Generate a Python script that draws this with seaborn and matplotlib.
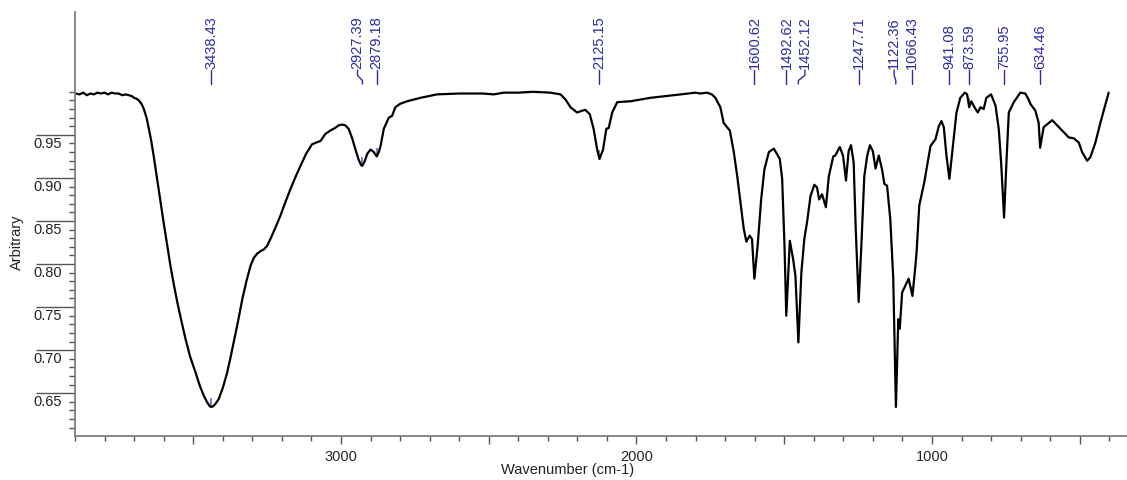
import numpy as np
import pandas as pd
import matplotlib
matplotlib.use("Agg")
import matplotlib.pyplot as plt
import matplotlib.transforms as mtrans
from matplotlib.ticker import FixedLocator, FixedFormatter
import seaborn as sns

# ---------------- data ----------------
wavenumber = [
    3897, 3885, 3872, 3860, 3848, 3836, 3824, 3812, 3800, 3788, 3776, 3764, 3752, 3740,
    3728, 3718, 3708, 3700, 3692, 3684, 3675, 3667, 3658, 3650, 3642, 3634, 3617, 3600,
    3588, 3577, 3566, 3554, 3540, 3526, 3510, 3492, 3478, 3464, 3452, 3444, 3439, 3432,
    3424, 3414, 3400, 3385, 3374, 3363, 3348, 3334, 3320, 3306, 3295, 3284, 3272, 3261,
    3250, 3239, 3222, 3205, 3188, 3171, 3154, 3137, 3118, 3098, 3084, 3069, 3053, 3036,
    3020, 3008, 2996, 2985, 2974, 2962, 2951, 2940, 2932, 2928, 2920, 2911, 2900, 2889,
    2879, 2872, 2866, 2855, 2838, 2827, 2816, 2800, 2776, 2731, 2675, 2600, 2562, 2520,
    2483, 2449, 2400, 2350, 2291, 2257, 2240, 2223, 2201, 2184, 2173, 2158, 2145, 2133,
    2125, 2113, 2102, 2094, 2082, 2065, 2020, 1953, 1900, 1850, 1800, 1784, 1761, 1745,
    1733, 1716, 1705, 1696, 1684, 1671, 1659, 1648, 1637, 1628, 1617, 1609, 1601, 1590,
    1578, 1567, 1552, 1535, 1515, 1507, 1499, 1493, 1481, 1470, 1462, 1452, 1442, 1432,
    1423, 1411, 1398, 1389, 1382, 1372, 1359, 1349, 1334, 1327, 1312, 1301, 1291, 1282,
    1274, 1265, 1258, 1248, 1239, 1229, 1219, 1210, 1200, 1191, 1180, 1169, 1161, 1152,
    1141, 1131, 1122, 1114, 1109, 1101, 1090, 1079, 1066, 1056, 1052, 1043, 1026, 1005,
    988, 977, 968, 960, 951, 941, 929, 917, 904, 889, 881, 874, 867, 856,
    845, 836, 825, 816, 800, 785, 774, 766, 756, 748, 740, 723, 701, 684,
    673, 667, 650, 639, 634, 622, 593, 565, 537, 520, 503, 492, 475, 464,
    447, 430, 419, 402,
]
arbitrary = [
    0.998, 0.997, 0.999, 0.996, 0.998, 0.997, 0.999, 0.998, 0.999, 0.997, 0.999, 0.998, 0.998, 0.996,
    0.997, 0.996, 0.995, 0.993, 0.992, 0.990, 0.986, 0.980, 0.970, 0.957, 0.943, 0.926, 0.887, 0.848,
    0.822, 0.798, 0.777, 0.756, 0.734, 0.713, 0.692, 0.674, 0.659, 0.647, 0.639, 0.635, 0.634, 0.635,
    0.638, 0.643, 0.656, 0.674, 0.691, 0.709, 0.734, 0.759, 0.780, 0.798, 0.807, 0.812, 0.815, 0.817,
    0.821, 0.829, 0.842, 0.856, 0.872, 0.887, 0.901, 0.914, 0.928, 0.939, 0.941, 0.943, 0.951, 0.955,
    0.958, 0.961, 0.962, 0.961, 0.957, 0.946, 0.933, 0.921, 0.915, 0.914, 0.919, 0.928, 0.933, 0.930,
    0.925, 0.930, 0.937, 0.957, 0.970, 0.972, 0.982, 0.986, 0.989, 0.993, 0.997, 0.998, 0.998, 0.998,
    0.997, 0.999, 0.999, 1.000, 0.999, 0.997, 0.991, 0.982, 0.976, 0.978, 0.979, 0.974, 0.957, 0.933,
    0.922, 0.933, 0.957, 0.958, 0.976, 0.988, 0.989, 0.993, 0.995, 0.997, 0.999, 0.998, 0.999, 0.997,
    0.993, 0.982, 0.964, 0.960, 0.955, 0.931, 0.902, 0.872, 0.841, 0.826, 0.833, 0.829, 0.783, 0.821,
    0.875, 0.910, 0.930, 0.934, 0.922, 0.899, 0.821, 0.740, 0.827, 0.806, 0.786, 0.709, 0.790, 0.829,
    0.848, 0.879, 0.892, 0.889, 0.875, 0.881, 0.866, 0.902, 0.925, 0.926, 0.936, 0.926, 0.897, 0.931,
    0.938, 0.918, 0.841, 0.756, 0.821, 0.902, 0.926, 0.938, 0.931, 0.911, 0.926, 0.910, 0.893, 0.891,
    0.852, 0.783, 0.634, 0.736, 0.725, 0.767, 0.775, 0.783, 0.763, 0.798, 0.814, 0.868, 0.895, 0.937,
    0.945, 0.960, 0.966, 0.959, 0.926, 0.899, 0.937, 0.976, 0.993, 0.999, 0.997, 0.982, 0.989, 0.982,
    0.976, 0.982, 0.980, 0.993, 0.997, 0.984, 0.957, 0.918, 0.854, 0.918, 0.976, 0.988, 0.999, 0.998,
    0.991, 0.986, 0.978, 0.964, 0.935, 0.959, 0.967, 0.957, 0.947, 0.946, 0.941, 0.930, 0.920, 0.924,
    0.941, 0.964, 0.978, 0.999,
]

peak_positions = [3438.43, 2927.39, 2879.18, 2125.15, 1600.62, 1492.62, 1452.12,
                  1247.71, 1122.36, 1066.43, 941.08, 873.59, 755.95, 634.46]
peak_labels = ["3438.43", "2927.39", "2879.18", "2125.15", "1600.62", "1492.62", "1452.12",
               "1247.71", "1122.36", "1066.43", "941.08", "873.59", "755.95", "634.46"]
# where each label text sits (shifted a little when crowded)
label_positions = [3438.43, 2944.0, 2879.18, 2125.15, 1600.62, 1492.62, 1430.0,
                   1247.71, 1128.0, 1066.43, 941.08, 873.59, 755.95, 634.46]

x_major_ticks = [500, 1000, 1500, 2000, 2500, 3000, 3500]
x_major_labels = ["", "1000", "", "2000", "", "3000", ""]
y_major_ticks = [0.65, 0.70, 0.75, 0.80, 0.85, 0.90, 0.95]
y_major_labels = ["0.65", "0.70", "0.75", "0.80", "0.85", "0.90", "0.95"]

df = pd.DataFrame({"Wavenumber": wavenumber, "Arbitrary": arbitrary})

# ---------------- style ----------------
sns.set_style("white")
plt.rcParams["font.family"] = ["Liberation Sans", "DejaVu Sans"]

W, H = 1127, 481
fig = plt.figure(figsize=(W / 100, H / 100), dpi=100)
ax = fig.add_axes([75 / W, 43.7 / H, 1052 / W, 424.6 / H])

label_blue = "#2b2ba3"
marker_blue = "#6a6acc"
axis_grey = "#7f7f7f"
tick_grey = "#555555"

# small peak markers (under the curve)
peak_vals = np.interp(peak_positions, wavenumber[::-1], arbitrary[::-1])
ax.vlines(peak_positions, peak_vals, peak_vals + 0.010, color=marker_blue, lw=1.2, zorder=1)

sns.lineplot(data=df, x="Wavenumber", y="Arbitrary", sort=False, estimator=None,
             color="black", lw=1.6, ax=ax, zorder=2)

ax.set_xlim(3900, 340)
ax.set_ylim(0.600, 1.093)

# spines
for s in ["top", "right"]:
    ax.spines[s].set_visible(False)
for s in ["left", "bottom"]:
    ax.spines[s].set_color(axis_grey)
    ax.spines[s].set_linewidth(1.3)

# x ticks
ax.xaxis.set_major_locator(FixedLocator(x_major_ticks))
ax.xaxis.set_major_formatter(FixedFormatter(x_major_labels))
ax.xaxis.set_minor_locator(FixedLocator(np.arange(400, 3901, 100)))
ax.tick_params(axis="x", which="major", direction="out", length=5.5, width=1.0,
               color=tick_grey, labelsize=10.5, pad=4, bottom=True)
ax.tick_params(axis="x", which="minor", direction="out", length=3.5, width=1.0,
               color=tick_grey, bottom=True)

# y ticks (long major lines, labels drawn just below them)
ax.yaxis.set_major_locator(FixedLocator(y_major_ticks))
ax.yaxis.set_minor_locator(FixedLocator(np.round(np.arange(0.61, 1.0001, 0.01), 2)))
ax.tick_params(axis="y", which="major", direction="out", length=28, width=1.0,
               color=tick_grey, labelleft=False, left=True)
ax.tick_params(axis="y", which="minor", direction="out", length=4, width=1.0,
               color=tick_grey, left=True)
ytrans = mtrans.blended_transform_factory(ax.transAxes, ax.transData)
for v, lab in zip(y_major_ticks, y_major_labels):
    ax.text(-0.0124, v - 0.001, lab, transform=ytrans, ha="right", va="top",
            fontsize=10.5, color="#222222")

ax.set_xlabel("")
ax.set_ylabel("")
ax.text(0.4686, -0.078, "Wavenumber (cm-1)", transform=ax.transAxes, ha="center",
        va="center", fontsize=10.5, color="#222222")
ax.text(-0.0556, 0.46, "Arbitrary", transform=ax.transAxes, ha="center", va="center",
        rotation=90, fontsize=10.5, color="#222222")

# peak labels with leaders
ptrans = mtrans.blended_transform_factory(ax.transData, ax.transAxes)
y_low, y_high = 0.8297, 0.8627
for px, lx, lab in zip(peak_positions, label_positions, peak_labels):
    if abs(px - lx) < 1:
        ax.plot([px, px], [y_low, y_high], color=label_blue, lw=1.0, transform=ptrans,
                clip_on=False)
    else:
        ax.plot([px, px, lx, lx], [y_low, 0.838, 0.850, y_high], color=label_blue, lw=1.0,
                transform=ptrans, clip_on=False)
    ax.text(lx, y_high + 0.005, lab, transform=ptrans, rotation=90, ha="center",
            va="bottom", fontsize=10.5, color=label_blue)

fig.savefig("out.png", dpi=100)
